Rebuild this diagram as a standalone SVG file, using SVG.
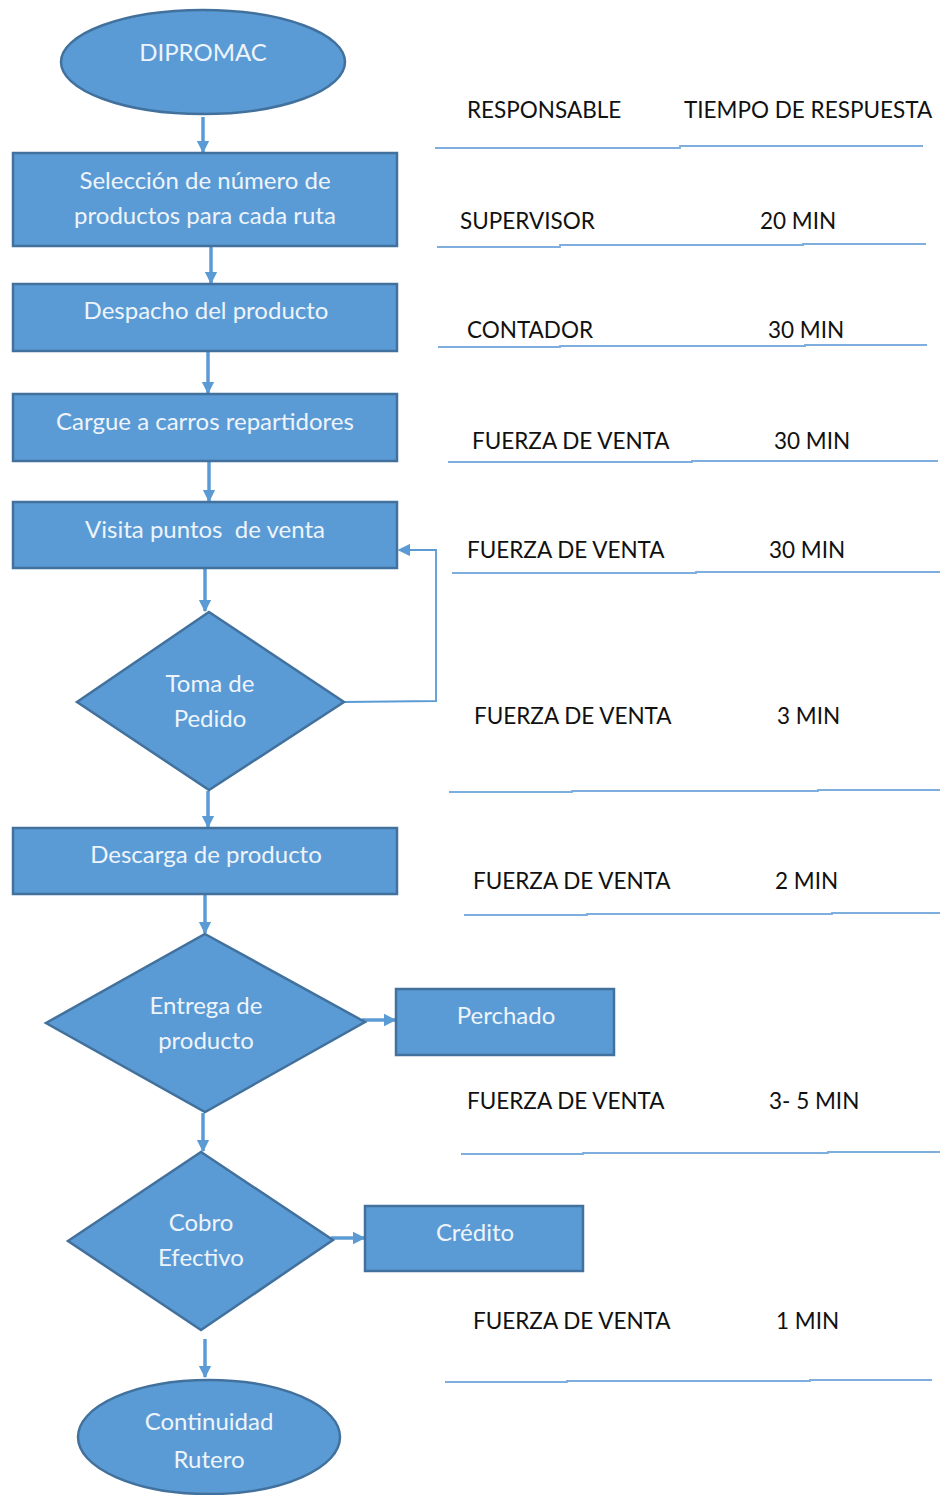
<svg xmlns="http://www.w3.org/2000/svg" width="942" height="1495" viewBox="0 0 942 1495">
  <style>
    .shape { fill: #5B9BD5; stroke: #41719C; stroke-width: 2.5; }
    .lbl { font-family: Lato, "Open Sans", sans-serif; font-size: 24px; fill: #EEF4FB; text-anchor: middle; }
    .tbl { font-family: Lato, "Open Sans", sans-serif; font-size: 22.5px; fill: #111111; }
    .flow { fill: none; stroke: #5B9BD5; stroke-width: 3.5; marker-end: url(#arrow); }
    .thin { fill: none; stroke: #5B9BD5; stroke-width: 1.8; marker-end: url(#arrow-sm); }
    .rule { fill: none; stroke: #7EAEDE; stroke-width: 1.8; }
  </style>
  <defs>
    <marker id="arrow" viewBox="0 0 10 10" refX="9" refY="5" markerWidth="3.6" markerHeight="4" orient="auto" markerUnits="strokeWidth">
      <path d="M0,0 L10,5 L0,10 Z" fill="#5B9BD5"/>
    </marker>
    <marker id="arrow-sm" viewBox="0 0 10 10" refX="9" refY="5" markerWidth="7" markerHeight="7" orient="auto" markerUnits="strokeWidth">
      <path d="M0,0 L10,5 L0,10 Z" fill="#5B9BD5"/>
    </marker>
  </defs>
  <rect width="942" height="1495" fill="#FFFFFF"/>

  <!-- connectors -->
  <g id="connectors">
    <line class="flow" x1="203" y1="117" x2="203" y2="152"/>
    <line class="flow" x1="211" y1="247" x2="211" y2="283"/>
    <line class="flow" x1="208" y1="352" x2="208" y2="393"/>
    <line class="flow" x1="209" y1="462" x2="209" y2="501"/>
    <line class="flow" x1="205" y1="569" x2="205" y2="611"/>
    <polyline class="thin" points="344,702 436,701 436,550 399,550"/>
    <line class="flow" x1="208" y1="791" x2="208" y2="827"/>
    <line class="flow" x1="205" y1="895" x2="205" y2="933"/>
    <line class="flow" x1="362" y1="1020" x2="395" y2="1020"/>
    <line class="flow" x1="203" y1="1113" x2="203" y2="1151"/>
    <line class="flow" x1="331" y1="1238" x2="364" y2="1238"/>
    <line class="flow" x1="205" y1="1339" x2="205" y2="1377"/>
  </g>

  <!-- flow nodes -->
  <g id="n-dipromac">
    <ellipse class="shape" cx="203" cy="62" rx="142" ry="52"/>
    <text class="lbl" x="203" y="61">DIPROMAC</text>
  </g>
  <g id="n-seleccion">
    <rect class="shape" x="13" y="153" width="384" height="93"/>
    <text class="lbl" x="205" y="189">Selección de número de</text>
    <text class="lbl" x="205" y="224">productos para cada ruta</text>
  </g>
  <g id="n-despacho">
    <rect class="shape" x="13" y="284" width="384" height="67"/>
    <text class="lbl" x="206" y="319">Despacho del producto</text>
  </g>
  <g id="n-cargue">
    <rect class="shape" x="13" y="394" width="384" height="67"/>
    <text class="lbl" x="205" y="430">Cargue a carros repartidores</text>
  </g>
  <g id="n-visita">
    <rect class="shape" x="13" y="502" width="384" height="66"/>
    <text class="lbl" x="205" y="538" xml:space="preserve">Visita puntos  de venta</text>
  </g>
  <g id="n-toma">
    <polygon class="shape" points="209,612 344,702 209,790 77,702"/>
    <text class="lbl" x="210" y="692">Toma de</text>
    <text class="lbl" x="210" y="727">Pedido</text>
  </g>
  <g id="n-descarga">
    <rect class="shape" x="13" y="828" width="384" height="66"/>
    <text class="lbl" x="206" y="863">Descarga de producto</text>
  </g>
  <g id="n-entrega">
    <polygon class="shape" points="205,934 365,1022 205,1112 46,1023"/>
    <text class="lbl" x="206" y="1014">Entrega de</text>
    <text class="lbl" x="206" y="1049">producto</text>
  </g>
  <g id="n-perchado">
    <rect class="shape" x="396" y="989" width="218" height="66"/>
    <text class="lbl" x="506" y="1024">Perchado</text>
  </g>
  <g id="n-cobro">
    <polygon class="shape" points="201,1152 333,1240 201,1330 68,1241"/>
    <text class="lbl" x="201" y="1231">Cobro</text>
    <text class="lbl" x="201" y="1266">Efectivo</text>
  </g>
  <g id="n-credito">
    <rect class="shape" x="365" y="1206" width="218" height="65"/>
    <text class="lbl" x="475" y="1241">Crédito</text>
  </g>
  <g id="n-continuidad">
    <ellipse class="shape" cx="209" cy="1437" rx="131" ry="57"/>
    <text class="lbl" x="209" y="1430">Continuidad</text>
    <text class="lbl" x="209" y="1468">Rutero</text>
  </g>

  <!-- responsibility / response-time table -->
  <g id="table">
    <text class="tbl" x="467" y="118">RESPONSABLE</text>
    <text class="tbl" x="684" y="118">TIEMPO DE RESPUESTA</text>
    <polyline class="rule" points="435,148 680,148 680,146 923,146"/>

    <text class="tbl" x="460" y="229">SUPERVISOR</text>
    <text class="tbl" x="760" y="229">20 MIN</text>
    <polyline class="rule" points="437,247 560,247 560,245 803,245 803,244 926,244"/>

    <text class="tbl" x="467" y="338">CONTADOR</text>
    <text class="tbl" x="768" y="338">30 MIN</text>
    <polyline class="rule" points="438,347 560,347 560,346 805,346 805,345 927,345"/>

    <text class="tbl" x="472" y="449">FUERZA DE VENTA</text>
    <text class="tbl" x="774" y="449">30 MIN</text>
    <polyline class="rule" points="448,462 692,462 692,461 938,461"/>

    <text class="tbl" x="467" y="558">FUERZA DE VENTA</text>
    <text class="tbl" x="769" y="558">30 MIN</text>
    <polyline class="rule" points="452,573 696,573 696,572 940,572"/>

    <text class="tbl" x="474" y="724">FUERZA DE VENTA</text>
    <text class="tbl" x="777" y="724">3 MIN</text>
    <polyline class="rule" points="449,792 572,792 572,791 818,791 818,790 940,790"/>

    <text class="tbl" x="473" y="889">FUERZA DE VENTA</text>
    <text class="tbl" x="775" y="889">2 MIN</text>
    <polyline class="rule" points="464,915 587,915 587,914 832,914 832,913 940,913"/>

    <text class="tbl" x="467" y="1109">FUERZA DE VENTA</text>
    <text class="tbl" x="769" y="1109">3- 5 MIN</text>
    <polyline class="rule" points="461,1154 583,1154 583,1153 828,1153 828,1152 940,1152"/>

    <text class="tbl" x="473" y="1329">FUERZA DE VENTA</text>
    <text class="tbl" x="776" y="1329">1 MIN</text>
    <polyline class="rule" points="445,1382 567,1382 567,1381 810,1381 810,1380 932,1380"/>
  </g>
</svg>
